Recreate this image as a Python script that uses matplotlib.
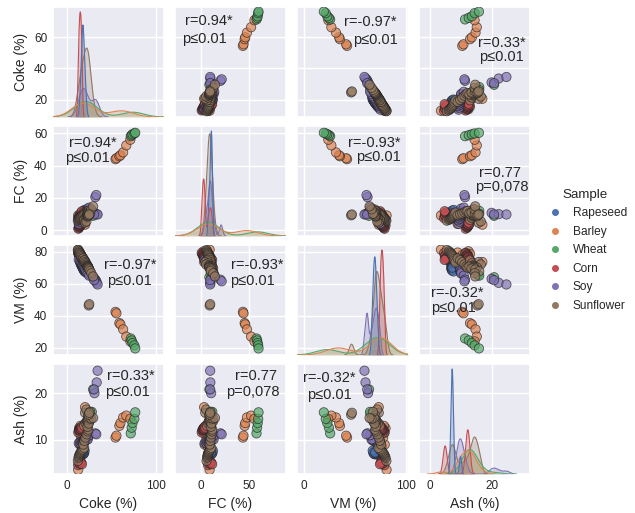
import numpy as np
import pandas as pd
import matplotlib
matplotlib.use("Agg")
import matplotlib.pyplot as plt
import seaborn as sns
from matplotlib.lines import Line2D

samples = ["Rapeseed", "Barley", "Wheat", "Corn", "Soy", "Sunflower"]
variables = ["Coke", "FC", "VM", "Ash"]
axis_labels = ["Coke (%)", "FC (%)", "VM (%)", "Ash (%)"]

rapeseed_coke = [15.2, 16.0, 16.6, 17.0, 17.4, 17.7, 18.0, 18.2, 18.5, 18.8, 19.1, 19.5, 20.0, 20.8, 21.5, 17.9]
rapeseed_fc = [7.8, 8.5, 9.0, 9.4, 9.9, 10.3, 10.6, 10.9, 11.2, 11.4, 11.7, 12.1, 12.6, 11.0, 11.6, 10.5]
rapeseed_vm = [72.8, 72.0, 71.5, 71.0, 70.6, 70.2, 69.9, 69.6, 69.3, 69.0, 68.6, 68.2, 67.6, 67.9, 67.0, 70.0]
rapeseed_ash = [6.8, 7.0, 7.3, 7.1, 7.5, 7.2, 6.9, 7.6, 7.3, 7.0, 7.4, 7.2, 7.7, 9.8, 10.1, 7.3]

barley_coke = [12.8, 13.8, 14.6, 15.4, 16.2, 17.0, 17.8, 18.6, 19.4, 20.2, 21.0, 22.0, 23.2, 24.5, 20.5,
               54.5, 55.5, 58.8, 60.0, 63.0, 66.5, 71.0]
barley_fc = [9.2, 3.0, 4.0, 5.0, 5.8, 6.5, 7.2, 8.0, 8.6, 9.3, 10.0, 10.8, 11.8, 12.9, 3.5,
             44.0, 44.6, 45.8, 46.4, 48.2, 52.5, 56.0]
barley_vm = [81.2, 80.2, 79.4, 78.6, 77.8, 77.0, 76.2, 75.4, 74.6, 73.8, 73.0, 72.0, 70.8, 69.5, 73.5,
             42.4, 41.5, 35.4, 34.6, 31.5, 27.0, 24.0]
barley_ash = [3.6, 12.5, 9.0, 13.0, 10.5, 11.8, 8.6, 12.2, 9.8, 13.4, 11.0, 12.8, 10.2, 14.0, 17.0,
              10.5, 10.9, 13.0, 13.6, 14.8, 15.2, 14.5]

wheat_coke = [14.5, 15.8, 16.8, 17.6, 18.4, 19.0, 19.6, 20.2, 20.8, 21.5, 22.2, 23.0, 24.0, 25.2, 26.0, 28.0, 29.5,
              71.5, 72.5, 73.5, 75.5, 76.5]
wheat_fc = [3.0, 4.0, 4.8, 5.5, 6.2, 6.6, 7.1, 7.5, 8.0, 8.5, 9.0, 9.6, 10.4, 11.3, 10.4, 12.0, 9.0,
            58.2, 58.8, 59.4, 59.9, 60.3]
wheat_vm = [79.0, 77.8, 76.8, 76.0, 75.2, 74.6, 74.0, 73.4, 72.8, 72.0, 71.3, 70.5, 69.5, 68.3, 65.5, 65.0, 64.0,
            25.8, 24.6, 23.0, 21.5, 19.6]
wheat_ash = [11.5, 11.8, 12.0, 12.1, 12.2, 12.4, 12.5, 12.7, 12.8, 13.0, 13.2, 13.4, 13.6, 13.9, 15.6, 16.0, 20.8,
             11.4, 12.6, 13.6, 14.5, 15.9]

corn_coke = [13.0, 13.6, 14.1, 14.5, 14.9, 15.3, 15.7, 16.1, 16.6, 17.3, 12.8, 13.9, 14.7, 15.5, 16.3, 17.0]
corn_fc = [1.0, 1.6, 2.0, 2.4, 2.8, 3.1, 3.4, 3.8, 4.2, 4.8, 7.6, 8.6, 9.5, 10.2, 11.0, 11.8]
corn_vm = [79.2, 78.5, 78.0, 77.5, 77.1, 76.7, 76.3, 75.8, 75.3, 74.6, 79.0, 77.8, 77.0, 76.2, 75.5, 74.8]
corn_ash = [11.6, 12.0, 12.2, 12.1, 12.4, 12.3, 12.6, 12.3, 12.8, 12.5, 4.6, 5.0, 4.9, 5.3, 5.1, 4.8]

soy_coke = [13.5, 14.8, 15.8, 16.6, 17.4, 18.1, 18.8, 19.5, 20.3, 21.2, 22.2, 23.5, 25.0,
            32.0, 33.0, 31.0, 33.5, 34.5, 30.5]
soy_fc = [4.0, 5.3, 6.3, 7.0, 7.9, 8.5, 9.2, 9.7, 10.4, 11.2, 12.0, 13.4, 14.0,
          20.5, 21.8, 10.8, 10.0, 9.8, 9.8]
soy_vm = [75.0, 74.0, 73.2, 72.5, 71.8, 71.2, 70.6, 70.0, 69.3, 68.5, 67.6, 66.4, 65.0,
          62.5, 61.5, 63.0, 60.5, 59.5, 62.2]
soy_ash = [9.3, 9.5, 9.2, 9.6, 9.4, 9.7, 9.6, 9.9, 9.8, 10.0, 10.2, 10.1, 11.0,
           11.4, 11.2, 20.0, 22.3, 24.8, 20.8]

sunflower_coke = [12.5, 13.2, 13.8, 14.3, 14.8, 15.4, 16.0, 16.7, 17.5, 18.4, 19.5,
                  18.5, 19.8, 21.0, 22.4, 23.6, 24.2,
                  19.5, 20.5, 21.3, 22.0, 22.6, 23.0, 23.3, 23.6, 23.9, 24.2, 24.6, 25.2, 26.2, 27.5, 29.5,
                  24.6, 25.2]
sunflower_fc = [6.0, 6.5, 7.0, 7.3, 7.6, 8.0, 8.4, 8.9, 9.5, 10.2, 11.0,
                9.4, 10.0, 10.5, 11.2, 11.8, 12.0,
                6.5, 4.7, 7.7, 5.5, 8.6, 8.9, 10.5, 9.3, 8.7, 9.7, 11.1, 10.5, 10.2, 13.0, 14.8,
                9.3, 9.8]
sunflower_vm = [81.0, 80.2, 79.5, 79.0, 78.4, 77.8, 77.1, 76.3, 75.4, 74.4, 73.2,
                75.8, 74.6, 73.4, 72.0, 70.8, 70.0,
                74.5, 73.5, 72.7, 72.0, 71.4, 71.0, 70.7, 70.4, 70.1, 69.8, 69.4, 68.8, 67.8, 66.5, 64.5,
                46.4, 47.2]
sunflower_ash = [5.5, 6.2, 6.5, 6.8, 7.0, 7.2, 7.4, 7.6, 7.8, 8.0, 8.3,
                 9.0, 9.8, 10.5, 11.2, 11.8, 12.2,
                 13.0, 15.8, 13.6, 16.5, 14.0, 14.1, 12.8, 14.3, 15.2, 14.5, 13.5, 14.7, 16.0, 14.5, 14.7,
                 15.4, 15.8]

# KDE bandwidths per variable, in sample order
kde_bandwidth = {
    "Coke": [1.2, 12.0, 12.0, 0.8, 4.0, 3.5],
    "FC": [0.7, 11.0, 11.0, 1.0, 1.5, 2.2],
    "VM": [1.0, 10.0, 11.0, 0.9, 1.2, 2.2],
    "Ash": [0.3, 1.5, 2.2, 0.6, 1.1, 0.8],
}

# correlation annotations: (row var, col var, r text, p text, (x, y) of r, (x, y) of p) in axes fraction
annotations = [
    ("Coke", "FC", "r=0.94*", "p≤0.01", (0.306, 0.873), (0.266, 0.704)),
    ("Coke", "VM", "r=-0.97*", "p≤0.01", (0.655, 0.864), (0.704, 0.697)),
    ("Coke", "Ash", "r=0.33*", "p≤0.01", (0.746, 0.673), (0.741, 0.540)),
    ("FC", "Coke", "r=0.94*", "p≤0.01", (0.358, 0.846), (0.314, 0.710)),
    ("FC", "VM", "r=-0.93*", "p≤0.01", (0.693, 0.846), (0.729, 0.716)),
    ("FC", "Ash", "r=0.77", "p=0,078", (0.726, 0.574), (0.744, 0.447)),
    ("VM", "Coke", "r=-0.97*", "p≤0.01", (0.694, 0.816), (0.694, 0.674)),
    ("VM", "FC", "r=-0.93*", "p≤0.01", (0.738, 0.816), (0.695, 0.674)),
    ("VM", "Ash", "r=-0.32*", "p≤0.01", (0.344, 0.561), (0.303, 0.425)),
    ("Ash", "Coke", "r=0.33*", "p≤0.01", (0.704, 0.885), (0.671, 0.748)),
    ("Ash", "FC", "r=0.77", "p=0,078", (0.734, 0.885), (0.700, 0.748)),
    ("Ash", "VM", "r=-0.32*", "p≤0.01", (0.286, 0.870), (0.294, 0.718)),
]

sns.set_theme(style="darkgrid")
plt.rcParams["font.family"] = ["Liberation Sans", "DejaVu Sans"]

palette = sns.color_palette("deep", 6)
colors = dict(zip(samples, palette))

sample_data = {
    "Rapeseed": (rapeseed_coke, rapeseed_fc, rapeseed_vm, rapeseed_ash),
    "Barley": (barley_coke, barley_fc, barley_vm, barley_ash),
    "Wheat": (wheat_coke, wheat_fc, wheat_vm, wheat_ash),
    "Corn": (corn_coke, corn_fc, corn_vm, corn_ash),
    "Soy": (soy_coke, soy_fc, soy_vm, soy_ash),
    "Sunflower": (sunflower_coke, sunflower_fc, sunflower_vm, sunflower_ash),
}
frames = []
for name in samples:
    c, f, v, a = sample_data[name]
    frames.append(pd.DataFrame({"Coke": c, "FC": f, "VM": v, "Ash": a, "Sample": name}))
df = pd.concat(frames, ignore_index=True)
n_total = len(df)

xlimits = {"Coke": (-15.6, 108.4), "FC": (-27, 89), "VM": (-6.6, 102.5), "Ash": (-3.4, 32.6)}
ylimits = {"Coke": (8.8, 79.7), "FC": (-3.5, 64.7), "VM": (15.5, 84.3), "Ash": (2.7, 26.3)}
xticks = {"Coke": [0, 100], "FC": [0, 50], "VM": [0, 100], "Ash": [0, 20]}
yticks = {"Coke": [20, 40, 60], "FC": [0, 20, 40, 60], "VM": [20, 40, 60, 80], "Ash": [10, 20]}

fig, axes = plt.subplots(4, 4, figsize=(6.35, 5.13), dpi=100)
fig.subplots_adjust(left=0.083, right=0.8354, bottom=0.076, top=0.987, wspace=0.10, hspace=0.079)

point_colors = [colors[s] for s in df["Sample"]]


def common_norm_kde(values, bw, lo, hi):
    vals = np.asarray(values, dtype=float)
    start = max(lo, vals.min() - 3 * bw)
    stop = min(hi, vals.max() + 3 * bw)
    grid = np.linspace(start, stop, 400)
    dens = np.exp(-0.5 * ((grid[None, :] - vals[:, None]) / bw) ** 2).sum(axis=0)
    dens /= n_total * bw * np.sqrt(2 * np.pi)
    return grid, dens


for i, yvar in enumerate(variables):
    for j, xvar in enumerate(variables):
        ax = axes[i, j]
        ax.set_xlim(xlimits[xvar])
        ax.set_ylim(ylimits[yvar])
        ax.set_xticks(xticks[xvar])
        ax.set_yticks(yticks[yvar])
        ax.tick_params(length=0, labelsize=8.5, pad=4)
        if i == j:
            tw = ax.twinx()
            peak = 0
            for k in reversed(range(len(samples))):
                name = samples[k]
                vals = df.loc[df["Sample"] == name, xvar]
                grid, dens = common_norm_kde(vals, kde_bandwidth[xvar][k], *xlimits[xvar])
                tw.fill_between(grid, 0, dens, color=colors[name], alpha=0.25, linewidth=0)
                tw.plot(grid, dens, color=colors[name], linewidth=0.8)
                peak = max(peak, dens.max())
            tw.set_xlim(xlimits[xvar])
            tw.set_ylim(0, peak * 1.05)
            tw.set_axis_off()
        else:
            ax.scatter(df[xvar], df[yvar], c=point_colors, s=45, alpha=0.7,
                       edgecolors="#222222", linewidths=0.6, zorder=3)
        if i == 3:
            ax.set_xlabel(axis_labels[j], fontsize=10)
        else:
            ax.set_xticklabels([])
            ax.set_xlabel("")
        if j == 0:
            ax.set_ylabel(axis_labels[i], fontsize=10)
        else:
            ax.set_yticklabels([])
            ax.set_ylabel("")

for rvar, cvar, rtxt, ptxt, rpos, ppos in annotations:
    ax = axes[variables.index(rvar), variables.index(cvar)]
    ax.text(rpos[0], rpos[1], rtxt, transform=ax.transAxes, ha="center", va="center",
            fontsize=10.5, zorder=5)
    ax.text(ppos[0], ppos[1], ptxt, transform=ax.transAxes, ha="center", va="center",
            fontsize=10.5, zorder=5)

handles = [Line2D([0], [0], marker="o", linestyle="", markersize=4,
                  markerfacecolor=colors[s], markeredgecolor=colors[s]) for s in samples]
fig.legend(handles, samples, title="Sample", loc="center left", bbox_to_anchor=(0.838, 0.512),
           frameon=False, fontsize=8.6, title_fontsize=9.6, labelspacing=0.55,
           handletextpad=0.5)

fig.savefig("out.png", dpi=100)
